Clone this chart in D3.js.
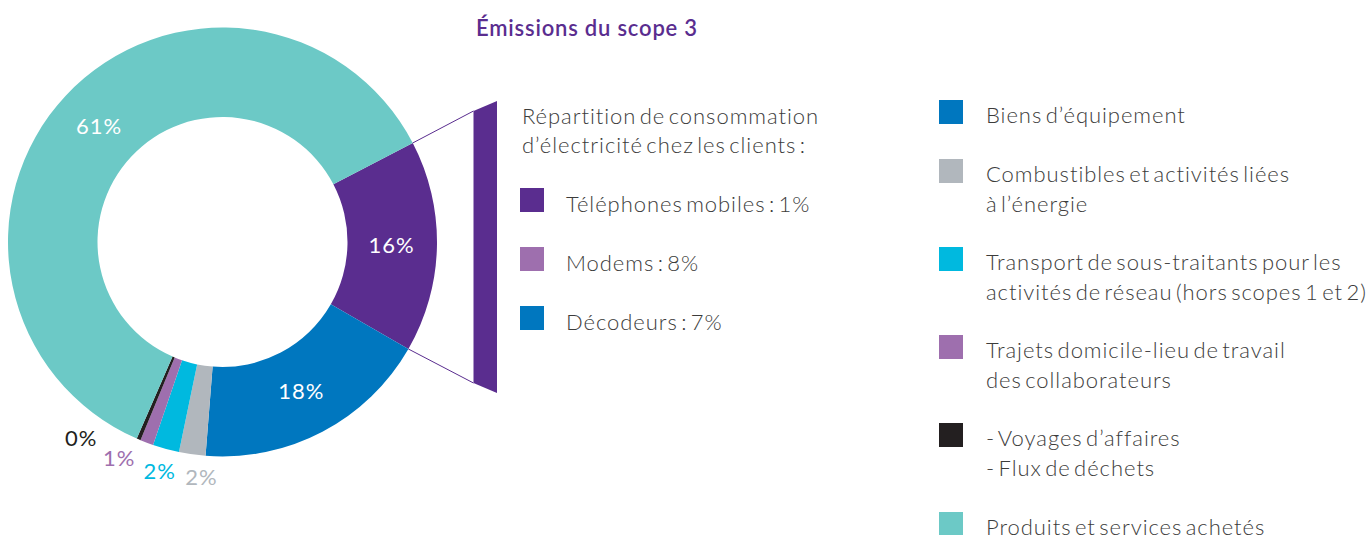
<!DOCTYPE html>
<html>
<head>
<meta charset="utf-8">
<script src="https://cdn.jsdelivr.net/npm/d3@7"></script>
<style>
  body { margin: 0; background: #fff; }
  text { font-family: Lato, "Open Sans", sans-serif; }
</style>
</head>
<body>
<div id="chart"></div>
<script>
// Data
const categories = ["Téléphones", "Biens d’équipement", "Combustibles", "Transport", "Trajets", "Voyages", "Produits"];
const values = [16, 18, 2, 2, 1, 0.3, 61];
const valueLabels = ["16%", "18%", "2%", "2%", "1%", "0%", "61%"];
const colors = ["#5a2d8f", "#0077bf", "#b1b7bd", "#00b9df", "#9e6fae", "#231f20", "#6cc9c6"];

const detailTitle = ["Répartition de consommation", "d’électricité chez les clients :"];
const detailLabels = ["Téléphones mobiles : 1%", "Modems : 8%", "Décodeurs : 7%"];
const detailColors = ["#5a2d8f", "#9e6fae", "#0077bf"];

const legendLabels = [
    ["Biens d’équipement"],
    ["Combustibles et activités liées", "à l’énergie"],
    ["Transport de sous-traitants pour les", "activités de réseau (hors scopes 1 et 2)"],
    ["Trajets domicile-lieu de travail", "des collaborateurs"],
    ["- Voyages d’affaires", "- Flux de déchets"],
    ["Produits et services achetés"]
];
const legendColors = ["#0077bf", "#b1b7bd", "#00b9df", "#9e6fae", "#231f20", "#6cc9c6"];

// Dimensions
const width = 1371;
const height = 535;
const cx = 222.5, cy = 242;
const outerR = 214.5, innerR = 125;
const textColor = "#3c3c3b";
const fontSize = "22px";
const spacing = "0.95px";
const wordSpacing = "-3.5px";

const svg = d3.select("#chart")
    .append("svg")
    .attr("width", width)
    .attr("height", height);

// Title
svg.append("text")
    .attr("x", 587)
    .attr("y", 36)
    .attr("text-anchor", "middle")
    .attr("fill", "#5a2d8f")
    .style("font-size", "22px")
    .style("font-weight", 600)
    .style("letter-spacing", "0.8px")
    .text("Émissions du scope 3");

// Donut
const startDeg = 62.5;
const pie = d3.pie()
    .sort(null)
    .value(d => d)
    .startAngle(startDeg * Math.PI / 180)
    .endAngle((startDeg + 360) * Math.PI / 180);

const arcs = pie(values);

const arc = d3.arc().innerRadius(innerR).outerRadius(outerR);
const labelArc = d3.arc().innerRadius(169).outerRadius(169);

const g = svg.append("g").attr("transform", `translate(${cx},${cy})`);

g.selectAll("path")
    .data(arcs)
    .enter()
    .append("path")
    .attr("d", arc)
    .attr("fill", (d, i) => colors[i]);

// Inside labels for big slices
g.selectAll(".inlabel")
    .data(arcs.filter(d => d.value >= 5))
    .enter()
    .append("text")
    .attr("class", "inlabel")
    .attr("transform", d => `translate(${labelArc.centroid(d)})`)
    .attr("text-anchor", "middle")
    .attr("dy", "0.35em")
    .attr("fill", "#fff")
    .style("font-size", fontSize)
    .style("letter-spacing", spacing)
    .text(d => valueLabels[d.index]);

// Outside labels for small slices, spread apart
const small = arcs.filter(d => d.value < 5);
const firstMid = (small[0].startAngle + small[0].endAngle) / 2;
const step = 10.2 * Math.PI / 180;
g.selectAll(".outlabel")
    .data(small)
    .enter()
    .append("text")
    .attr("class", "outlabel")
    .attr("transform", (d, i) => {
        const a = firstMid - 3 * Math.PI / 180 + i * step;
        const r = 236 + i * 2;
        return `translate(${r * Math.sin(a)},${-r * Math.cos(a)})`;
    })
    .attr("text-anchor", "middle")
    .attr("dy", "0.35em")
    .attr("fill", d => colors[d.index])
    .style("font-size", fontSize)
    .style("letter-spacing", spacing)
    .text(d => valueLabels[d.index]);

// Callout for the first slice
const callout = arcs[0];
const pt = a => [cx + outerR * Math.sin(a), cy - outerR * Math.cos(a)];
const p0 = pt(callout.startAngle);
const p1 = pt(callout.endAngle);
const barL = 473.5, barR = 497;
const barTopL = 111, barTopR = 101, barBotL = 383, barBotR = 393;

svg.append("line")
    .attr("x1", p0[0]).attr("y1", p0[1])
    .attr("x2", barL).attr("y2", barTopL)
    .attr("stroke", colors[0]).attr("stroke-width", 1);
svg.append("line")
    .attr("x1", p1[0]).attr("y1", p1[1])
    .attr("x2", barL).attr("y2", barBotL)
    .attr("stroke", colors[0]).attr("stroke-width", 1);

svg.append("path")
    .attr("d", `M${barL},${barTopL}L${barR},${barTopR}L${barR},${barBotR}L${barL},${barBotL}Z`)
    .attr("fill", colors[0]);

// Detail block
svg.selectAll(".dtitle")
    .data(detailTitle)
    .enter()
    .append("text")
    .attr("class", "dtitle")
    .attr("x", 522)
    .attr("y", (d, i) => 124 + i * 29)
    .attr("fill", textColor)
    .style("font-size", fontSize)
    .style("font-weight", 300)
    .style("letter-spacing", spacing)
    .style("word-spacing", wordSpacing)
    .text(d => d);

const detail = svg.selectAll(".detail")
    .data(detailLabels)
    .enter()
    .append("g")
    .attr("class", "detail")
    .attr("transform", (d, i) => `translate(520,${188 + i * 59})`);

detail.append("rect")
    .attr("width", 24).attr("height", 24)
    .attr("fill", (d, i) => detailColors[i]);

detail.append("text")
    .attr("x", 46).attr("y", 24)
    .attr("fill", textColor)
    .style("font-size", fontSize)
    .style("font-weight", 300)
    .style("letter-spacing", spacing)
    .style("word-spacing", wordSpacing)
    .text(d => d);

// Right legend
const legendY = [100, 159, 247, 335, 423, 512];
const legend = svg.selectAll(".legend")
    .data(legendLabels)
    .enter()
    .append("g")
    .attr("class", "legend")
    .attr("transform", (d, i) => `translate(939,${legendY[i]})`);

legend.append("rect")
    .attr("width", 24).attr("height", 24)
    .attr("fill", (d, i) => legendColors[i]);

legend.each(function(lines) {
    d3.select(this).selectAll("text")
        .data(lines)
        .enter()
        .append("text")
        .attr("x", 47)
        .attr("y", (d, i) => 23 + i * 30)
        .attr("fill", textColor)
        .style("font-size", fontSize)
        .style("font-weight", 300)
        .style("letter-spacing", spacing)
        .style("word-spacing", wordSpacing)
        .text(d => d);
});
</script>
</body>
</html>
